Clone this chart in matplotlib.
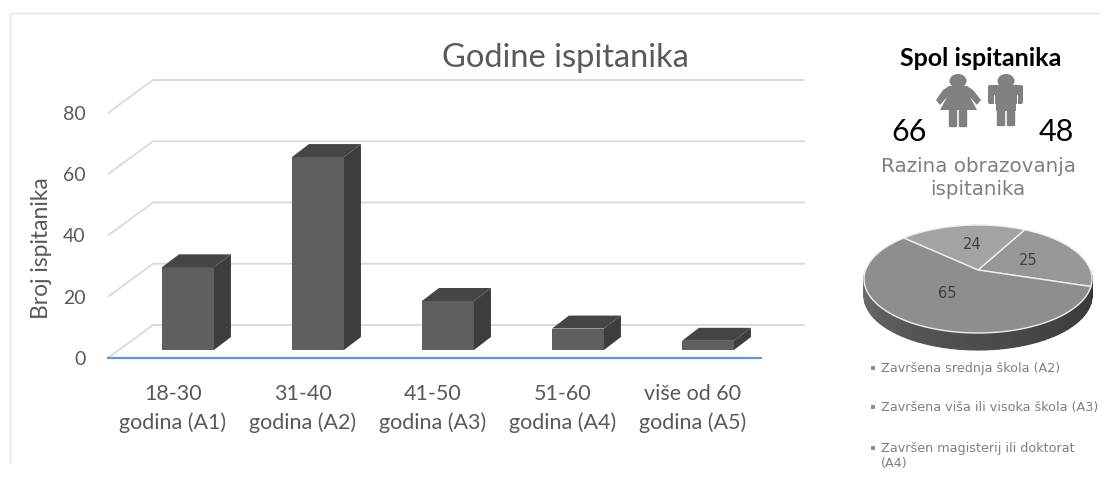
import matplotlib
matplotlib.use('Agg')
import matplotlib.pyplot as plt
import numpy as np
from matplotlib.lines import Line2D
from matplotlib.patches import Ellipse, FancyBboxPatch, Polygon, Rectangle

W, H = 1102, 490

age_labels = ['18-30\ngodina (A1)', '31-40\ngodina (A2)', '41-50\ngodina (A3)',
              '51-60\ngodina (A4)', 'više od 60\ngodina (A5)']
age_counts = [27, 63, 16, 7, 3]
y_ticks = [0, 20, 40, 60, 80]

women = 66
men = 48

edu_labels = ['Završena srednja škola (A2)', 'Završena viša ili visoka škola (A3)',
              'Završen magisterij ili doktorat\n(A4)']
edu_counts = [25, 65, 24]

plt.rcParams['font.family'] = ['Lato', 'DejaVu Sans']


def box(l, t, r, b):
    # pixel box to figure fractions
    return [l / W, 1 - b / H, (r - l) / W, (b - t) / H]


fig = plt.figure(figsize=(W / 100, H / 100), dpi=100)

# overlay in pixels for frame, icons and loose text
over = fig.add_axes([0, 0, 1, 1], zorder=3)
over.patch.set_alpha(0)
over.set_xlim(0, W)
over.set_ylim(H, 0)
over.axis('off')

over.add_line(Line2D([10, 10, 1100], [462, 13, 13], color='#e4e4e4', lw=1.0))

# bar chart
ax = fig.add_axes(box(108, 113, 758, 358), zorder=1)
ax.patch.set_alpha(0)
ax.set_xlim(-0.5, 4.5)
ax.set_ylim(0, 80)
for s in ax.spines.values():
    s.set_visible(False)

wall_dx = 45 / 130
wall_dy = 33 / 245 * 80
right_x = (805 - 173) / 130
for v in y_ticks:
    ax.plot([-0.5, -0.5 + wall_dx, right_x], [v, v + wall_dy, v + wall_dy],
            color='#d9d9d9', lw=1.3, clip_on=False, zorder=1, solid_capstyle='butt')
ax.plot([-0.5, 4.52], [0, 0], color='#5b9bd5', lw=1.6, clip_on=False, zorder=5)

bar_w = 0.4
bar_dx = 0.115
base = 8 / 245 * 80
side_dx = 17 / 130
side_dy = 13 / 245 * 80
xs = np.arange(len(age_counts))
ax.bar(xs + bar_dx, age_counts, width=bar_w, bottom=base, color='#5f5f5f', zorder=3)
for x, v in zip(xs, age_counts):
    r = x + bar_dx + bar_w / 2
    l = x + bar_dx - bar_w / 2
    t = base + v
    ax.add_patch(Polygon([(r, base), (r + side_dx, base + side_dy), (r + side_dx, t + side_dy), (r, t)],
                         color='#3d3d3d', lw=0, zorder=3))
    ax.add_patch(Polygon([(l, t), (r, t), (r + side_dx, t + side_dy), (l + side_dx, t + side_dy)],
                         color='#454545', lw=0, zorder=3))

ax.set_yticks(y_ticks)
ax.set_xticks(xs)
ax.set_xticklabels(age_labels, linespacing=1.5)
ax.tick_params(axis='y', length=0, labelsize=14, labelcolor='#595959', pad=16)
ax.tick_params(axis='x', length=0, labelsize=15.5, labelcolor='#595959', pad=19)
ax.set_ylabel('Broj ispitanika', fontsize=16.5, color='#595959')
ax.yaxis.set_label_coords(-56 / 650, 110 / 245)

over.text(565, 58, 'Godine ispitanika', fontsize=23.5, color='#595959', ha='center', va='center')

# gender block
over.text(981, 59, 'Spol ispitanika', fontsize=18, fontweight='bold', color='black', ha='center', va='center')
over.text(909, 132, str(women), fontsize=22, color='black', ha='center', va='center')
over.text(1056, 132, str(men), fontsize=22, color='black', ha='center', va='center')

icon = '#808080'
over.add_patch(Ellipse((958, 81), 17, 14, color=icon, lw=0))
over.add_patch(Polygon([(949, 86), (967, 86), (973, 90), (981, 100), (977, 105), (970, 97),
                        (977, 110), (940, 110), (947, 97), (940, 105), (936, 100), (943, 90)],
                       color=icon, lw=0))
over.add_patch(FancyBboxPatch((950, 108), 6, 18, boxstyle='round,pad=1.2', color=icon, lw=0))
over.add_patch(FancyBboxPatch((960, 108), 6, 18, boxstyle='round,pad=1.2', color=icon, lw=0))
over.add_patch(Ellipse((1006, 81), 17, 14, color=icon, lw=0))
over.add_patch(FancyBboxPatch((990, 87), 31, 15, boxstyle='round,pad=2', color=icon, lw=0))
over.add_patch(Rectangle((996, 95), 20, 16, color=icon, lw=0))
over.add_patch(Rectangle((993.5, 95), 1.2, 10, color='white', lw=0))
over.add_patch(Rectangle((1017, 95), 1.2, 10, color='white', lw=0))
over.add_patch(FancyBboxPatch((998, 108), 6, 17, boxstyle='round,pad=1.2', color=icon, lw=0))
over.add_patch(FancyBboxPatch((1008, 108), 6, 17, boxstyle='round,pad=1.2', color=icon, lw=0))

# education title
over.text(978, 178, 'Razina obrazovanja\nispitanika', fontsize=14.3, color='#7f7f7f', ha='center', va='center',
          family='DejaVu Sans', linespacing=1.3)

# tilted pie, projected from the unit circle
k = 1 / 6
sx = 112.4
sy = 52.5
start = -17.4
pie = fig.add_axes(box(978 - 1.1 * sx, 270 - 1.0 * sy - 3, 978 + 1.1 * sx, 270 + 1.7 * sy), zorder=2)
pie.set_xlim(-1.1, 1.1)
pie.set_ylim(-1.7, 1.0 + 3 / sy)
pie.axis('off')


def tilt(deg):
    a = np.radians(deg)
    x, y = np.cos(a), np.sin(a)
    return x / (1 + k * y), y / (1 + k * y)


depth = 17 / sy
ang = np.linspace(180, 360, 61)
side_cols = np.interp(np.linspace(0, 1, 60), [0, 0.35, 1], [0.45, 0.33, 0.2])
for i in range(60):
    x0, y0 = tilt(ang[i])
    x1, y1 = tilt(ang[i + 1])
    col = str(side_cols[i])
    pie.add_patch(Polygon([(x0, y0), (x1, y1), (x1, y1 - depth), (x0, y0 - depth)],
                          facecolor=col, edgecolor=col, lw=0.8, zorder=1))

order = [edu_counts[0], edu_counts[2], edu_counts[1]]
cols = ['#979797', '#a3a3a3', '#8e8e8e']
cuts = start + np.cumsum([0] + order) / sum(order) * 360
for v, col, a0, a1 in zip(order, cols, cuts[:-1], cuts[1:]):
    arc = np.linspace(a0, a1, 80)
    px, py = tilt(arc)
    pie.add_patch(Polygon(np.vstack([[0, 0], np.column_stack([px, py])]), facecolor=col,
                          edgecolor='#eeeeee', lw=1.0, zorder=2))

# pixel spots for the numbers
for v, (tx, ty) in zip(order, [(1028, 260), (972, 244), (947, 293)]):
    over.text(tx, ty, str(v), fontsize=10.5, color='#404040', ha='center', va='center', family='DejaVu Sans')

# legend
for t, ty, my in zip(edu_labels, [368, 407, 456], [368, 407, 448]):
    over.add_patch(Rectangle((871, my - 2), 4, 4, color='#909090', lw=0))
    over.text(881, ty, t, fontsize=9.2, color='#7f7f7f', va='center',
              family='DejaVu Sans', linespacing=1.15)

fig.savefig('out.png', dpi=100)
